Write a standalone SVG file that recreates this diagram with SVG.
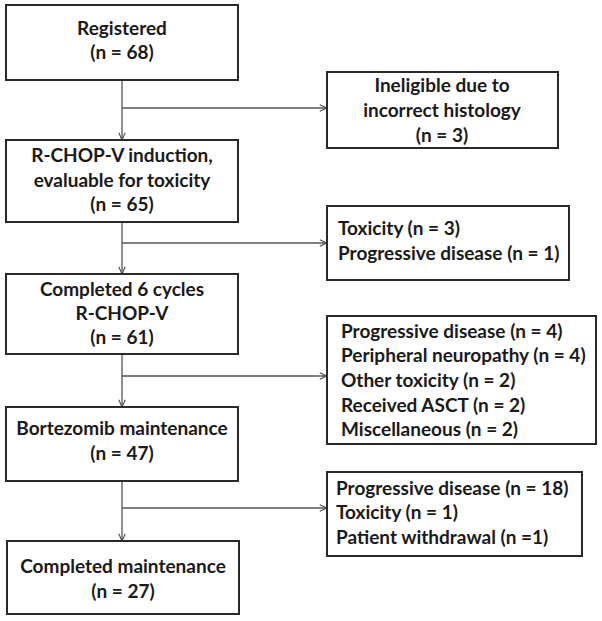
<svg xmlns="http://www.w3.org/2000/svg" width="602" height="621" viewBox="0 0 602 621">
<defs>
<marker id="arr" viewBox="0 0 10 10" refX="10" refY="5" markerWidth="8" markerHeight="8" markerUnits="userSpaceOnUse" orient="auto">
<path d="M1,1 L10,5 L1,9" fill="none" stroke="#444" stroke-width="1.3"/>
</marker>
<style>
.box{fill:#fff;stroke:#2a2a2a;stroke-width:2}
.t{font-family:Lato,"Liberation Sans",sans-serif;font-weight:bold;font-size:19px;fill:#1a1a1a}
.c{text-anchor:middle}
.ln{fill:none;stroke:#555;stroke-width:1.3}
</style>
</defs>
<rect width="602" height="621" fill="#fff"/>
<g id="connectors">
<line class="ln" x1="122" y1="80" x2="122" y2="140" marker-end="url(#arr)"/>
<line class="ln" x1="122" y1="108" x2="327" y2="108" marker-end="url(#arr)"/>
<line class="ln" x1="122" y1="222" x2="122" y2="274" marker-end="url(#arr)"/>
<line class="ln" x1="122" y1="243" x2="327" y2="243" marker-end="url(#arr)"/>
<line class="ln" x1="122" y1="354" x2="122" y2="407" marker-end="url(#arr)"/>
<line class="ln" x1="122" y1="376" x2="327" y2="376" marker-end="url(#arr)"/>
<line class="ln" x1="122" y1="481" x2="122" y2="541" marker-end="url(#arr)"/>
<line class="ln" x1="122" y1="508" x2="327" y2="508" marker-end="url(#arr)"/>
</g>
<g id="registered">
<rect class="box" x="6" y="5" width="232" height="75"/>
<text class="t c" x="122" y="35">Registered</text>
<text class="t c" x="122" y="59">(n = 68)</text>
</g>
<g id="ineligible">
<rect class="box" x="327" y="72" width="231" height="76"/>
<text class="t c" x="442" y="92">Ineligible due to</text>
<text class="t c" x="442" y="117">incorrect histology</text>
<text class="t c" x="442" y="142">(n = 3)</text>
</g>
<g id="induction">
<rect class="box" x="6" y="140" width="232" height="82"/>
<text class="t c" x="122" y="162">R-CHOP-V induction,</text>
<text class="t c" x="122" y="187">evaluable for toxicity</text>
<text class="t c" x="122" y="211">(n = 65)</text>
</g>
<g id="induction-exit">
<rect class="box" x="327" y="206" width="242" height="74"/>
<text class="t" x="338" y="235">Toxicity (n = 3)</text>
<text class="t" x="338" y="260">Progressive disease (n = 1)</text>
</g>
<g id="completed-6">
<rect class="box" x="6" y="274" width="232" height="80"/>
<text class="t c" x="122" y="296">Completed 6 cycles</text>
<text class="t c" x="122" y="320">R-CHOP-V</text>
<text class="t c" x="122" y="344">(n = 61)</text>
</g>
<g id="completed-exit">
<rect class="box" x="327" y="316" width="269" height="128"/>
<text class="t" x="341" y="338">Progressive disease (n = 4)</text>
<text class="t" x="341" y="362">Peripheral neuropathy (n = 4)</text>
<text class="t" x="341" y="387">Other toxicity (n = 2)</text>
<text class="t" x="341" y="412">Received ASCT (n = 2)</text>
<text class="t" x="341" y="436">Miscellaneous (n = 2)</text>
</g>
<g id="maintenance">
<rect class="box" x="6" y="407" width="232" height="74"/>
<text class="t c" x="122" y="435">Bortezomib maintenance</text>
<text class="t c" x="122" y="460">(n = 47)</text>
</g>
<g id="maintenance-exit">
<rect class="box" x="327" y="472" width="255" height="84"/>
<text class="t" x="336" y="495">Progressive disease (n = 18)</text>
<text class="t" x="336" y="519">Toxicity (n = 1)</text>
<text class="t" x="336" y="544">Patient withdrawal (n =1)</text>
</g>
<g id="completed-maintenance">
<rect class="box" x="7" y="541" width="232" height="73"/>
<text class="t c" x="123" y="573">Completed maintenance</text>
<text class="t c" x="123" y="598">(n = 27)</text>
</g>
</svg>
